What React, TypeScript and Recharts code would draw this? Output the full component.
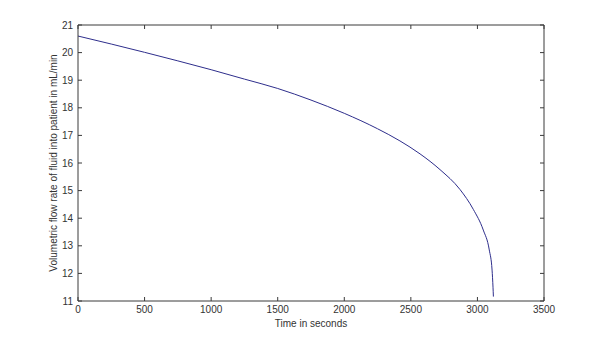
import React from 'react';
import { LineChart, Line, XAxis, YAxis } from 'recharts';

const timeSeconds = [0, 250, 500, 750, 1000, 1250, 1500, 1750, 2000, 2250, 2418, 2569, 2719, 2869, 2969, 3044, 3089, 3110, 3117, 3120];
const flowRate = [20.6, 20.31, 20.01, 19.7, 19.38, 19.04, 18.7, 18.28, 17.8, 17.24, 16.8, 16.33, 15.76, 15.04, 14.32, 13.57, 12.85, 12.12, 11.5, 11.16];
const xTicks = [0, 500, 1000, 1500, 2000, 2500, 3000, 3500];
const yTicks = [11, 12, 13, 14, 15, 16, 17, 18, 19, 20, 21];
const xLabel = 'Time in seconds';
const yLabel = 'Volumetric flow rate of fluid into patient in mL/min';

const data = timeSeconds.map((t, i) => ({ t, q: flowRate[i] }));

const FONT = '"Liberation Sans", Arial, sans-serif';
const AXIS = '#3a3a3a';
const TEXT = '#333333';

const YLabel = (props: any) => {
  const vb = props.viewBox || {};
  const x = vb.x + vb.width - 25;
  const y = vb.y + vb.height / 2;
  return (
    <text x={x} y={y} transform={`rotate(-90 ${x} ${y})`} textAnchor="middle" dominantBaseline="central" fontSize={10} fontFamily={FONT} fill={TEXT}>
      {yLabel}
    </text>
  );
};

const XLabel = (props: any) => {
  const vb = props.viewBox || {};
  const x = vb.x + vb.width / 2;
  const y = vb.y + 26;
  return (
    <text x={x} y={y} textAnchor="middle" fontSize={10} fontFamily={FONT} fill={TEXT}>
      {xLabel}
    </text>
  );
};

export default function App() {
  const tickStyle = { fontSize: 10, fontFamily: FONT, fill: TEXT };
  return (
    <div style={{ position: 'absolute', left: 0, top: 0, width: 601, height: 339, background: '#fff' }}>
      <LineChart width={601} height={339} data={data} margin={{ top: 24, right: 56, bottom: 0, left: 0 }}>
        <XAxis
          xAxisId="bottom"
          dataKey="t"
          type="number"
          domain={[0, 3500]}
          ticks={xTicks}
          allowDataOverflow
          height={38}
          tickSize={-4}
          tickMargin={9}
          stroke={AXIS}
          tick={tickStyle}
          interval={0}
          label={<XLabel />}
        />
        <XAxis
          xAxisId="top"
          orientation="top"
          dataKey="t"
          type="number"
          domain={[0, 3500]}
          ticks={xTicks}
          allowDataOverflow
          height={1}
          tickSize={-4}
          stroke={AXIS}
          tickFormatter={() => ''}
          interval={0}
        />
        <YAxis
          yAxisId="left"
          type="number"
          domain={[11, 21]}
          ticks={yTicks}
          allowDataOverflow
          width={78}
          tickSize={-4}
          tickMargin={9}
          stroke={AXIS}
          tick={tickStyle}
          interval={0}
          label={<YLabel />}
        />
        <YAxis
          yAxisId="right"
          orientation="right"
          type="number"
          domain={[11, 21]}
          ticks={yTicks}
          allowDataOverflow
          width={1}
          tickSize={-4}
          stroke={AXIS}
          tickFormatter={() => ''}
          interval={0}
        />
        <Line
          xAxisId="bottom"
          yAxisId="left"
          dataKey="q"
          type="monotone"
          stroke="#2e2e8c"
          strokeWidth={1}
          dot={false}
          isAnimationActive={false}
        />
      </LineChart>
    </div>
  );
}
